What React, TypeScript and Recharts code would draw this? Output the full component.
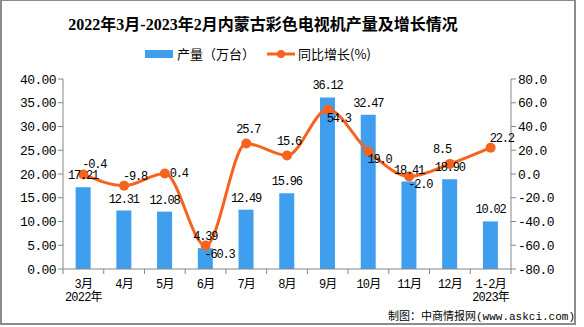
import { Bar, ComposedChart, LabelList, Line, XAxis, YAxis } from 'recharts';

const MONTHS = ['3月', '4月', '5月', '6月', '7月', '8月', '9月', '10月', '11月', '12月', '1-2月'];
const YEAR_NOTES = ['2022年', '', '', '', '', '', '', '', '', '', '2023年'];
const OUTPUT = [17.21, 12.31, 12.08, 4.39, 12.49, 15.96, 36.12, 32.47, 18.41, 18.9, 10.02];
const GROWTH = [-0.4, -9.8, 0.4, -60.3, 25.7, 15.6, 54.3, 19.0, -2.0, 8.5, 22.2];
const LEFT_TICKS = [0, 5, 10, 15, 20, 25, 30, 35, 40];
const RIGHT_TICKS = [-80, -60, -40, -20, 0, 20, 40, 60, 80];
// where each growth label sits relative to its point
const GROWTH_LABEL_POS = [
  'aboveRight', 'aboveRight', 'right', 'belowRight', 'above', 'above',
  'belowRight', 'belowRight', 'belowRight', 'aboveLeft', 'aboveRight',
];

const data = MONTHS.map((m, i) => ({ month: m, year: YEAR_NOTES[i], output: OUTPUT[i], growth: GROWTH[i] }));

const BLUE = '#409eef';
const ORANGE = '#f5641e';
const AXIS = '#868686';
const FONT = "'Liberation Mono', 'Noto Sans CJK SC', monospace";
const BAND = 448 / MONTHS.length;

function MonthTick(props: any) {
  const { x, y, payload, index } = props;
  const half = BAND / 2;
  return (
    <g>
      <line x1={x - half} y1={y - 8} x2={x - half} y2={y - 3} stroke={AXIS} />
      {index === MONTHS.length - 1 && (
        <line x1={x + half} y1={y - 8} x2={x + half} y2={y - 3} stroke={AXIS} />
      )}
      <text x={x} y={y + 11} textAnchor="middle" fontSize={12} letterSpacing={-0.8} fill="#000" fontFamily={FONT}>
        {payload.value}
      </text>
      {YEAR_NOTES[index] && (
        <text x={x} y={y + 24} textAnchor="middle" fontSize={12} letterSpacing={-0.8} fill="#000" fontFamily={FONT}>
          {YEAR_NOTES[index]}
        </text>
      )}
    </g>
  );
}

function GrowthLabel(props: any) {
  const { x, y, value, index } = props;
  const pos = GROWTH_LABEL_POS[index];
  let tx = x - 1;
  let ty = y - 6;
  let anchor = 'start';
  if (pos === 'right') { tx = x + 5; ty = y + 3; }
  if (pos === 'belowRight') { tx = x - 1; ty = y + 12; }
  if (pos === 'above') { tx = x + 2; ty = y - 10; anchor = 'middle'; }
  if (pos === 'aboveLeft') { tx = x + 1; ty = y - 11; anchor = 'end'; }
  return (
    <text x={tx} y={ty} fontSize={12} letterSpacing={-1.2} fill="#000" fontFamily={FONT} textAnchor={anchor}>
      {value.toFixed(1)}
    </text>
  );
}

function LegendBox() {
  return (
    <div style={{ position: 'absolute', left: 145, top: 44, display: 'flex', alignItems: 'center', fontFamily: "'Noto Sans CJK SC', sans-serif", fontSize: 13, color: '#000' }}>
      <span style={{ width: 28, height: 8, background: BLUE, display: 'inline-block', marginRight: 4 }} />
      <span>产量（万台）</span>
      <svg width={28} height={12} style={{ marginLeft: 12, marginRight: 3 }}>
        <line x1={0} y1={6} x2={28} y2={6} stroke={ORANGE} strokeWidth={3} />
        <circle cx={14} cy={6} r={4} fill={ORANGE} />
      </svg>
      <span>同比增长(%)</span>
    </div>
  );
}

export default function App() {
  return (
    <div style={{ position: 'relative', width: 584, height: 327, background: '#fff', overflow: 'hidden' }}>
      <style>{'body{margin:0}'}</style>
      <div style={{ position: 'absolute', left: 0, top: 0, width: 576, height: 325, borderStyle: 'solid', borderColor: '#8c8c8c', borderWidth: '1px 2px 2px 2px', boxSizing: 'border-box' }} />
      <div style={{ position: 'absolute', left: 0, top: 11, width: 526, textAlign: 'center', fontFamily: "'Liberation Serif', 'Noto Sans CJK SC', serif", fontWeight: 'bold', fontSize: 16, color: '#000' }}>
        2022年3月-2023年2月内蒙古彩色电视机产量及增长情况
      </div>
      <LegendBox />
      <div style={{ position: 'absolute', left: 0, top: 0 }}>
        <ComposedChart width={584} height={327} data={data} margin={{ top: 79, right: 0, left: 0, bottom: 28 }} barCategoryGap="31%">
          <XAxis
            dataKey="month"
            xAxisId="m"
            height={30}
            stroke={AXIS}
            tickLine={false}
            tick={<MonthTick />}
            interval={0}
          />
          <YAxis
            yAxisId="l"
            width={63}
            domain={[0, 40]}
            ticks={LEFT_TICKS}
            tickFormatter={(v: number) => v.toFixed(2)}
            stroke={AXIS}
            tickSize={5}
            tick={{ fill: '#000', fontSize: 13, fontFamily: FONT, letterSpacing: -0.6 }}
          />
          <YAxis
            yAxisId="r"
            orientation="right"
            width={73}
            domain={[-80, 80]}
            ticks={RIGHT_TICKS}
            tickFormatter={(v: number) => v.toFixed(1)}
            stroke={AXIS}
            tickSize={5}
            tick={{ fill: '#000', fontSize: 13, fontFamily: FONT, letterSpacing: -0.6 }}
          />
          <Bar dataKey="output" xAxisId="m" yAxisId="l" fill={BLUE} isAnimationActive={false}>
            <LabelList
              dataKey="output"
              position="top"
              offset={8}
              formatter={(v: any) => Number(v).toFixed(2)}
              style={{ fontSize: 12, fill: '#000', fontFamily: FONT, letterSpacing: -1.2 }}
            />
          </Bar>
          <Line
            dataKey="growth"
            xAxisId="m"
            yAxisId="r"
            type="monotone"
            stroke={ORANGE}
            strokeWidth={3}
            dot={{ r: 5, fill: ORANGE, stroke: ORANGE, strokeWidth: 0 }}
            isAnimationActive={false}
          >
            <LabelList dataKey="growth" content={<GrowthLabel />} />
          </Line>
        </ComposedChart>
      </div>
      <div style={{ position: 'absolute', left: 388, top: 307, fontFamily: FONT, fontSize: 11, color: '#000', whiteSpace: 'nowrap' }}>
        制图：中商情报网(www.askci.com)
      </div>
    </div>
  );
}
